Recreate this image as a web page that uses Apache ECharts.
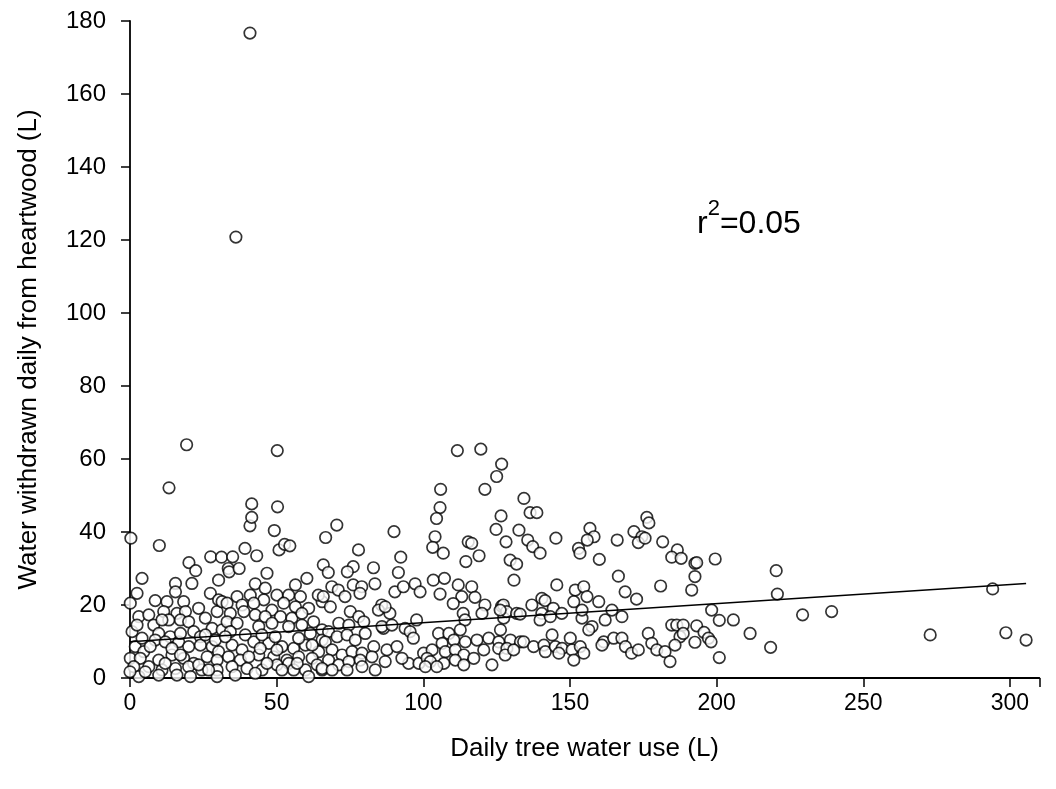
<!DOCTYPE html>
<html>
<head>
<meta charset="utf-8">
<script src="https://cdn.jsdelivr.net/npm/echarts@6/dist/echarts.min.js"></script>
<style>
  html, body { margin: 0; padding: 0; background: #fff; }
  #chart { width: 1056px; height: 789px; }
</style>
</head>
<body>
<div id="chart"></div>
<script>
// Daily tree water use (L) vs. water withdrawn daily from heartwood (L); each pair = [use, withdrawn]

const usesUnder35 = [
  [0.3, 38.3], [10, 36.3], [13.3, 52.1], [19.3, 63.9], [20.1, 31.6], [22.4, 29.4], [27.5, 33.2], [31.2, 33.1],
  [4.1, 27.3], [15.5, 25.9], [21.1, 25.9], [30.2, 26.8], [2.4, 23.2], [0.1, 20.5], [8.6, 21.2], [12.6, 20.9],
  [18.3, 20.9], [15.5, 23.6], [27.4, 23.2], [30.2, 21.4], [3.0, 16.8], [6.4, 17.3], [11.5, 18.2], [16.0, 17.7],
  [18.9, 18.2], [23.4, 19.1], [25.7, 16.4], [29.7, 18.2], [31.4, 20.9], [8.1, 14.5], [13.2, 15.9], [17.2, 15.9],
  [20.0, 15.4], [28.0, 13.6], [0.7, 12.7], [9.8, 12.2], [13.7, 11.3], [21.7, 12.7], [24.0, 11.3], [31.4, 13.2],
  [1.8, 8.6], [4.7, 7.2], [8.6, 10.4], [12.0, 9.9], [16.6, 9.9], [20.0, 8.6], [24.0, 9.0], [28.0, 8.6],
  [30.2, 7.2], [0.1, 5.4], [3.5, 5.4], [9.8, 4.9], [14.3, 6.3], [18.3, 5.4], [21.7, 4.0], [26.3, 5.8],
  [29.7, 4.9], [1.3, 3.1], [6.4, 3.1], [10.9, 2.2], [15.5, 2.6], [20.0, 3.1], [24.5, 2.2], [29.7, 2.2],
  [3.0, 0.4], [9.8, 0.8], [16.0, 0.8], [29.7, 0.4], [0, 1.7],
  [10.9, 15.9], [17.2, 12.2], [25.7, 11.8], [4.1, 10.9], [6.9, 8.6], [14.3, 8.1], [12.0, 4.0], [23.4, 3.6],
  [26.8, 2.2], [17.2, 6.3], [5.2, 1.7], [20.6, 0.4], [29.1, 10.4], [2.4, 14.5]
];

const uses35to65 = [
  [33.5, 30], [33.8, 29.1], [35, 33.2], [37.2, 30.0], [39.2, 35.5], [40.9, 41.7], [41.5, 44.0], [41.5, 47.7],
  [43.2, 33.5], [49.2, 40.4], [50.2, 62.3], [50.3, 46.9], [50.8, 35.1], [52.7, 36.6], [54.5, 36.2],
  [36.1, 120.8], [40.9, 176.7],
  [46.7, 28.7], [60.3, 27.3], [42.7, 25.8], [46.1, 24.6], [56.4, 25.5], [36.5, 22.3], [41.0, 22.7], [45.6, 21.4],
  [50.1, 22.7], [54.1, 22.7], [58.1, 22.3], [33.1, 20.5], [38.2, 20.0], [42.2, 20.5], [48.4, 18.6], [52.4, 20.5],
  [56.4, 19.5], [60.9, 19.1], [65.5, 20.9], [34.2, 17.7], [38.8, 18.2], [42.7, 17.3], [46.1, 16.8], [51.3, 16.8],
  [55.2, 16.4], [58.6, 17.7], [62.6, 15.4], [33.1, 15.4], [36.5, 15.0], [43.9, 14.1], [48.4, 15.0], [54.1, 14.1],
  [58.6, 14.5], [61.5, 12.2], [65.5, 13.2], [34.2, 12.7], [39.3, 11.8], [34.8, 9.0], [38.2, 7.7], [42.2, 9.9],
  [47.3, 9.5], [51.8, 8.6], [55.8, 8.1], [59.8, 9.0], [64.3, 7.2], [65.5, 10.4], [33.6, 5.8], [37.6, 4.9],
  [43.9, 6.3], [49.0, 5.8], [53.5, 4.9], [57.5, 5.8], [62.1, 5.4], [34.8, 3.1], [39.9, 2.6], [45.0, 2.2],
  [50.1, 3.6], [54.1, 4.0], [59.8, 2.2], [63.8, 3.6], [35.9, 0.8], [42.7, 1.3], [60.9, 0.4], [55.8, 2.2],
  [32.5, 11.3], [45.0, 11.8], [49.5, 11.3], [57.5, 10.9], [40.5, 5.8], [46.7, 4.0], [51.8, 2.2], [65.5, 2.2],
  [57.0, 4.0], [50.1, 7.7], [44.4, 8.1], [62.1, 9.0]
];

const uses65to130 = [
  [111.6, 62.3], [119.6, 62.7], [126.7, 58.6], [125, 55.2], [121, 51.7], [105.9, 51.7], [105.7, 46.7], [104.5, 43.7],
  [126.5, 44.4], [124.8, 40.7], [70.5, 41.9], [66.7, 38.5], [90, 40.1], [104, 38.7], [103.2, 35.8], [106.8, 34.2],
  [115.3, 37.3], [116.5, 36.9], [119, 33.5], [114.5, 31.9], [77.9, 35.1], [92.3, 33.1], [91.5, 28.9], [65.9, 31],
  [67.6, 28.9], [76.1, 30.5], [74.1, 29.1], [83, 30.2], [83.5, 25.8], [68.8, 25], [71, 24.1], [76.1, 25.5],
  [79, 25], [64.2, 22.7], [65.9, 22.3], [73.3, 22.3], [78.4, 23.2], [90.3, 23.6], [93.2, 25], [97.2, 25.8],
  [98.9, 23.6], [103.4, 26.8], [107.2, 27.3], [105.7, 23], [111.9, 25.5], [116.5, 25], [113.1, 22.3], [117.6, 22.1],
  [121, 20], [126.7, 19.7], [110.2, 20.4], [113.6, 17.7], [114.2, 15.9], [85.8, 20], [84.7, 18.6], [88.6, 17.7],
  [86.4, 13.6], [97.7, 15.9], [93.8, 13.6], [95.5, 12.7], [96.6, 10.9],
  [68.3, 19.5], [87.0, 19.5], [75.1, 18.2], [78.0, 16.8], [71.2, 15.0], [74.6, 14.5], [79.7, 15.4], [85.9, 14.1],
  [89.3, 14.5], [67.7, 12.7], [66.6, 9.9], [70.6, 11.3], [74.0, 11.8], [76.8, 10.4], [80.2, 12.2], [83.1, 8.6],
  [87.6, 7.7], [91.0, 8.6], [68.9, 7.7], [72.3, 6.3], [75.7, 7.2], [79.1, 6.8], [82.5, 5.8], [87.0, 4.5],
  [95.0, 4.0], [98.5, 4.0], [100.1, 6.8], [67.7, 4.9], [71.2, 3.6], [74.6, 4.5], [78.5, 4.9], [83.6, 2.2],
  [92.7, 5.4], [65.5, 2.6], [68.9, 2.2], [74.0, 2.2], [79.1, 3.1],
  [120.0, 17.7], [127.4, 16.4], [105.2, 12.2], [108.7, 12.2], [112.6, 13.2], [126.3, 13.2], [103.0, 7.7], [106.4, 9.5],
  [110.4, 10.4], [114.3, 9.9], [118.3, 10.4], [122.3, 10.9], [125.7, 9.9], [129.7, 10.4], [101.3, 5.4], [107.5, 7.2],
  [110.9, 7.7], [113.8, 6.3], [117.2, 5.4], [120.6, 7.7], [125.7, 8.1], [128.5, 8.1], [102.4, 4.5], [107.0, 4.0],
  [110.9, 4.9], [113.8, 3.6], [123.4, 3.6], [127.9, 6.3], [100.7, 3.1], [104.6, 3.1]
];

const uses130to195 = [
  [134.3, 49.2], [136.4, 45.3], [138.7, 45.3], [132.6, 40.5], [128.2, 37.3], [135.6, 37.8], [137.3, 36.0], [139.8, 34.2],
  [145.2, 38.3], [129.6, 32.3], [131.8, 31.2], [130.9, 26.8], [156.8, 41], [158.2, 38.7], [155.9, 37.8], [152.9, 35.5],
  [153.4, 34.2], [160, 32.5], [166.1, 37.8], [176.2, 44], [176.9, 42.5], [171.8, 40.1], [174.5, 38.7], [173.3, 37.1],
  [175.6, 38.3], [181.6, 37.3], [186.6, 35.1], [184.7, 33.1], [187.9, 32.8], [192.6, 31.4], [145.5, 25.5], [166.5, 27.9],
  [168.8, 23.6], [172.7, 21.6], [180.9, 25.2], [191.5, 24.1], [192.6, 27.8],
  [127.3, 20], [128.4, 18.2], [126.2, 18.6], [131.8, 17.7], [133, 17.5], [140.4, 21.8], [141.5, 21.2], [137, 20],
  [144.3, 19.1], [147.2, 17.7], [140.4, 17.7], [139.8, 15.9],
  [151.8, 24.1], [154.7, 25.0], [151.3, 20.9], [155.8, 22.3], [159.8, 20.9], [167.7, 16.8], [143.3, 16.8], [154.1, 16.4],
  [162.0, 15.9], [154.1, 18.6], [164.3, 18.6], [157.5, 14.1], [156.4, 13.2], [143.9, 11.8], [133.1, 9.9], [130.8, 7.7],
  [134.2, 9.9], [137.6, 8.6], [141.1, 9.0], [141.6, 7.2], [145.0, 8.6], [147.3, 8.1], [150.1, 10.9], [150.7, 7.7],
  [153.5, 8.6], [154.7, 6.8], [151.3, 4.9], [161.5, 9.9], [164.9, 10.9], [160.9, 9.0], [167.7, 10.9], [168.9, 8.6],
  [146.2, 6.8],
  [184.7, 14.5], [186.4, 14.5], [188.6, 14.5], [187.5, 11.3], [171.0, 6.8], [173.3, 7.7], [176.7, 12.2], [177.9, 9.5],
  [179.6, 7.7], [182.4, 7.2], [184.1, 4.5], [185.8, 9.0], [188.6, 12.2]
];

const usesOver190 = [
  [193.2, 31.6], [199.5, 32.6], [220.3, 29.4], [220.7, 23], [198.3, 18.6], [193.2, 14.3], [200.9, 15.8], [205.7, 15.9],
  [195.7, 12.5], [197.2, 10.9], [198.1, 9.9], [192.6, 9.8], [211.4, 12.2], [200.9, 5.6], [218.4, 8.4], [229.3, 17.3],
  [239.2, 18.2], [294.1, 24.4], [272.8, 11.8], [298.6, 12.4], [305.5, 10.4]
];

// Least-squares fit drawn across the observed range of use
const fitUse = [0, 305.5];
const fitWithdrawn = [9.9, 25.9];

const xTicks = [0, 50, 100, 150, 200, 250, 300];
const yTicks = [0, 20, 40, 60, 80, 100, 120, 140, 160, 180];

const FONT = '"Liberation Sans", Arial, Helvetica, sans-serif';

const ringStyle = { color: '#ffffff', borderColor: '#000000', borderWidth: 1.7 };
function ringSeries(data) {
  return {
    type: 'scatter',
    data: data,
    symbol: 'circle',
    symbolSize: 11.5,
    itemStyle: ringStyle,
    emphasis: { disabled: true },
    z: 2
  };
}

const chart = echarts.init(document.getElementById('chart'), null, { renderer: 'canvas' });
chart.setOption({
  animation: false,
  backgroundColor: '#ffffff',
  textStyle: { fontFamily: FONT, color: '#000' },
  grid: { left: 130, right: 16.7, top: 21, bottom: 111 },
  xAxis: {
    type: 'value',
    min: xTicks[0],
    max: 310,
    interval: xTicks[1] - xTicks[0],
    name: 'Daily tree water use (L)',
    nameLocation: 'middle',
    nameGap: 58,
    nameTextStyle: { fontFamily: FONT, fontSize: 26, color: '#000' },
    axisLine: { onZero: false, lineStyle: { color: '#000', width: 1.8 } },
    axisTick: { length: 9, lineStyle: { color: '#000', width: 1.5 } },
    axisLabel: {
      fontFamily: FONT, fontSize: 23, color: '#000', margin: 14,
      formatter: v => (xTicks.includes(v) ? String(v) : '')
    },
    splitLine: { show: false }
  },
  yAxis: {
    type: 'value',
    min: yTicks[0],
    max: yTicks[yTicks.length - 1],
    interval: yTicks[1] - yTicks[0],
    name: 'Water withdrawn daily from heartwood (L)',
    nameLocation: 'middle',
    nameGap: 88,
    nameRotate: 90,
    nameTextStyle: { fontFamily: FONT, fontSize: 26, color: '#000' },
    axisLine: { onZero: false, lineStyle: { color: '#000', width: 1.8 } },
    axisTick: { length: 9, lineStyle: { color: '#000', width: 1.5 } },
    axisLabel: { fontFamily: FONT, fontSize: 24, color: '#000', margin: 24 },
    splitLine: { show: false }
  },
  graphic: [{
    type: 'text',
    left: 697,
    top: 196,
    style: {
      text: '{a|r}{s|2}{a|=0.05}',
      rich: {
        a: { fontFamily: FONT, fontSize: 32, color: '#000', lineHeight: 44, verticalAlign: 'bottom' },
        s: { fontFamily: FONT, fontSize: 22, color: '#000', lineHeight: 44, verticalAlign: 'top', padding: [2, 0, 0, 0] }
      }
    }
  }],
  series: [
    ringSeries(usesUnder35),
    ringSeries(uses35to65),
    ringSeries(uses65to130),
    ringSeries(uses130to195),
    ringSeries(usesOver190),
    {
      type: 'line',
      data: fitUse.map((u, i) => [u, fitWithdrawn[i]]),
      symbol: 'none',
      lineStyle: { color: '#000', width: 1.5 },
      emphasis: { disabled: true },
      z: 3
    }
  ]
});
</script>
</body>
</html>
